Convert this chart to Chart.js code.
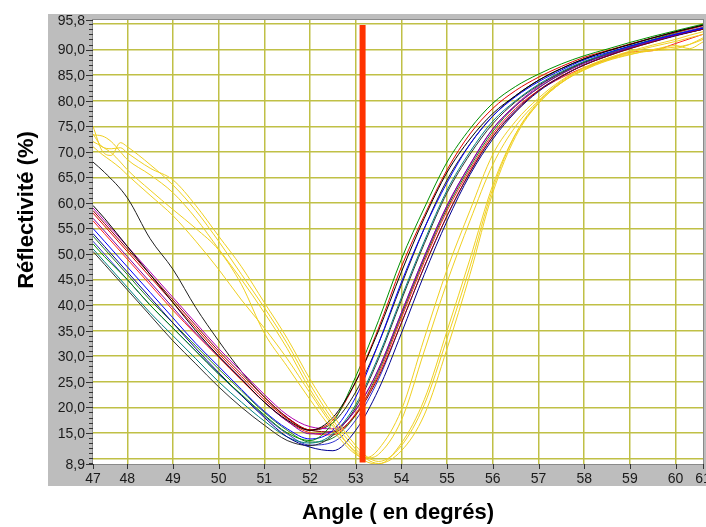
<!DOCTYPE html>
<html>
<head>
<meta charset="utf-8">
<script src="https://cdn.jsdelivr.net/npm/chart.js@4"></script>
<style>
body{margin:0;background:#fff}
canvas{display:block}
</style>
</head>
<body>
<canvas id="sprChart" width="706" height="527"></canvas>
<script>
// angles (degrees) sampled for the coloured runs
const angles = [47.25,47.5,48,48.5,49,49.5,50,50.5,51,51.5,52,52.5,53,53.5,54,54.5,55,55.5,56,56.5,57,57.5,58,58.5,59,59.5,60,60.6]

const black1 = [59.5,57,51.5,46,40.5,35,30,25.5,21,17.5,15.5,18,25,35,46.5,57,66,72.5,77.5,81,84,86.3,88.2,89.7,91,92.3,93.5,94.8]
const green1 = [52,49.5,45,40,35.5,31,26.5,22.5,18.5,15,13.5,17,26,37,49,59,68,74.5,79.5,82.8,85.2,87.2,88.8,90.1,91.4,92.6,93.7,95]
const red1 = [58,55.5,50.5,45.5,40.5,35.5,30.5,26,21.5,17.8,15.6,17.5,25,35.5,47.5,57.5,66.5,73.5,78.5,82,84.6,86.7,88.5,89.8,91.1,92.3,93.4,94.7]
const blue1 = [55,52.5,47.5,42.5,37.5,32.5,28,23.5,19.2,15.8,13.8,15.5,22,32.5,44.5,55,64,71.5,77,80.8,83.7,86,88,89.4,90.7,91.9,93,94.2]
const purple1 = [57,54.5,49.5,44.5,39.5,34.5,30,25.5,21,17.3,14.8,15.3,19.5,27.5,38.5,49.5,59.5,67.5,74.5,79,82.5,85.2,87.3,89,90.4,91.7,92.9,94.2]
const darkred1 = [58.5,56,51,46,41,36,31,26.5,22,18,15.5,15.2,18.5,26,36.5,47.5,57.5,66,73,78,82,84.8,87,88.7,90.2,91.5,92.8,94]
const navy1 = [54,51.5,46.5,41.5,36.5,31.5,26.8,22.3,18,14.2,12.2,11.5,15.5,23.5,34.5,46,56.5,65.5,72.5,77.8,81.8,84.7,87,88.7,90.2,91.5,92.7,94]
const teal1 = [51,48.5,43.5,38.5,34,29.5,25,21,17.3,14.2,13,14.8,20.5,30,41.5,52.5,62.5,70,76,80,83.2,85.7,87.7,89.2,90.6,91.8,93,94.3]
const black2 = [50.5,48,43,38,33,28.5,24,20,16.5,13.5,12.5,14.5,20,29.5,41,52,62,69.5,75.5,79.8,83,85.5,87.5,89,90.4,91.6,92.8,94]
const red2 = [56.5,54,49,44,39,34.3,29.8,25.3,21,17.3,15,14.6,18.8,26.5,37.5,48.5,58.5,66.5,73.5,78.5,82,84.5,86.5,88,89.5,89.8,91.2,93]
const green2 = [53.5,51,46,41,36.5,32,27.5,23.2,19,15.5,13.2,14,18.5,27,38,49,59,67,74,79,82.5,85.3,87.5,89.2,90.7,92,93.3,94.7]
const blue2 = [52.5,50,45,40,35.5,31,26.5,22.3,18.3,14.8,12.6,13.2,17.5,25.5,36.5,47.5,57.5,66,73,78.2,82,84.8,87,88.8,90.3,91.6,92.8,94]
const magenta1 = [59,56.5,51.5,46.5,41.5,36.5,31.5,27,22.5,18.5,16.2,15.8,19.5,27.5,38.5,49.5,59.5,67.5,74.5,79.2,82.8,85.5,87.6,89.2,90.6,91.9,93.1,94.4]
const black3 = [68,66,61,53,47,39.5,33,27,22,18,15.5,17,23,32.5,44,55,64.5,71.5,77,81,84,86.3,88.2,89.7,91,92.3,93.5,94.8]

// angles for the yellow runs
const yAngles = [47.25,47.45,47.65,47.85,48,48.5,49,49.5,50,50.5,51,51.5,52,52.5,53,53.25,53.5,54,54.5,55,55.5,56,56.5,57,57.5,58,58.5,59,59.5,60,60.3,60.6]
const yellow1 = [75,70.2,69.3,71.8,71,67.5,63.5,58.5,52.5,46,39.5,32.5,24.5,17.5,11.8,9.8,9.0,11.5,18.5,31.5,46,62,73,79.5,83.5,86.2,88,89.3,90,90.8,90.2,91.5]
const yellow2 = [73.3,73.1,72,70,68.5,65.5,62,57,51,45,38.5,31.5,23.5,16.8,11,9.3,8.9,13,21.5,35,49,63.5,73.5,79.5,83.5,86,87.8,89,90,90.5,91,92]
const yellow3 = [72,71,69.8,68,66.5,62.5,58.7,55,50.8,44,34.5,28,21.5,15.5,10.8,10.2,11.8,19.5,33.5,47,58.5,69.5,76,80.5,84,86.5,88.3,89.7,90.9,92,92.8,93.5]
const yellow4 = [71,69.5,68.2,66.8,65.5,61.5,57.5,52.5,47,41,35.5,29.5,22.8,16.3,11.3,10.1,10.8,17.5,31,44.5,56.5,67.5,75,80,83.8,86.4,88.2,89.5,90.6,91.6,92.3,93]
const yellow5 = [73.5,71,70.6,70.8,69.8,66.8,64.5,59.5,53.5,47.5,40.5,33.5,25.5,18.5,12.5,10.3,9.4,12.5,20.5,33.5,47.5,62.8,73.5,79.8,83.6,86.1,87.9,89.1,89.8,90.2,91,92.3]

// resonance marker
const markerAngle = 53.15
const markerRange = [94.8,9.2]

// axes
const xMin = 47.25
const xMax = 60.6
const yMin = 8.9
const yMax = 95.8
const xGrid = [48,49,50,51,52,53,54,55,56,57,58,59,60]
const yGrid = [10,15,20,25,30,35,40,45,50,55,60,65,70,75,80,85,90,95]
const xTickValues = [47.25,48,49,50,51,52,53,54,55,56,57,58,59,60,60.6]
const xTickLabels = ['47','48','49','50','51','52','53','54','55','56','57','58','59','60','61']
const yTickValues = [8.9,15,20,25,30,35,40,45,50,55,60,65,70,75,80,85,90,95.8]

const runs = [
{v:black1,c:'#000000'},{v:green1,c:'#009000'},{v:red1,c:'#e00000'},
{v:blue1,c:'#0000ff'},{v:purple1,c:'#8000a0'},{v:darkred1,c:'#900000'},
{v:navy1,c:'#000090'},{v:teal1,c:'#008080'},{v:black2,c:'#303030'},
{v:red2,c:'#ff2020'},{v:green2,c:'#208020'},{v:blue2,c:'#3030d0'},
{v:magenta1,c:'#b000b0'},{v:black3,c:'#202020'}
]
const yellows = [yellow1,yellow2,yellow3,yellow4,yellow5]

const datasets = [{
data:[{x:markerAngle,y:markerRange[0]},{x:markerAngle,y:markerRange[1]}],
borderColor:'#ff3300',
borderWidth:6,
borderCapStyle:'butt',
pointRadius:0,
order:0
}]
yellows.forEach(v=>{
datasets.push({
data:v.map((y,i)=>({x:yAngles[i],y:y})),
borderColor:'#f0d020',
borderWidth:1,
pointRadius:0,
cubicInterpolationMode:'monotone',
order:1
})
})
runs.forEach(r=>{
datasets.push({
data:r.v.map((y,i)=>({x:angles[i],y:y})),
borderColor:r.c,
borderWidth:1,
pointRadius:0,
cubicInterpolationMode:'monotone',
order:1
})
})

const FONT = '"Liberation Sans", Arial, sans-serif'

const frame = {
id:'frame',
beforeDraw(chart){
const c = chart.ctx, a = chart.chartArea
c.save()
c.fillStyle = '#ffffff'
c.fillRect(0,0,chart.width,chart.height)
c.fillStyle = '#bdbdbd'
c.fillRect(a.left-45,a.top-6,chart.width-(a.left-45),a.bottom-a.top+28)
c.fillStyle = '#ffffff'
c.fillRect(a.left,a.top,a.right-a.left,a.bottom-a.top)
c.restore()
},
afterDraw(chart){
const c = chart.ctx, a = chart.chartArea
const xs = chart.scales.x, ys = chart.scales.y
c.save()
c.strokeStyle = '#8a8a8a'
c.lineWidth = 1
c.strokeRect(a.left-0.5,a.top-0.5,a.right-a.left+1,a.bottom-a.top+1)

// small and large ticks on both axes
c.strokeStyle = '#333'
c.beginPath()
for(let v=Math.ceil(yMin); v<=yMax; v++){
const p = Math.round(ys.getPixelForValue(v))+0.5
c.moveTo(a.left-4,p); c.lineTo(a.left,p)
}
yTickValues.forEach(v=>{
const p = Math.round(ys.getPixelForValue(v))+0.5
c.moveTo(a.left-7,p); c.lineTo(a.left,p)
})
xTickValues.forEach(v=>{
const p = Math.round(xs.getPixelForValue(v))+0.5
c.moveTo(p,a.bottom); c.lineTo(p,a.bottom+5)
})
c.stroke()

c.fillStyle = '#1a1a1a'
c.font = '14px '+FONT
c.textAlign = 'right'
c.textBaseline = 'middle'
yTickValues.forEach(v=>{
c.fillText(v.toFixed(1).replace('.',','),a.left-8,ys.getPixelForValue(v)+1)
})
c.textAlign = 'center'
xTickValues.forEach((v,i)=>{
c.fillText(xTickLabels[i],xs.getPixelForValue(v),a.bottom+15)
})

c.fillStyle = '#000'
c.font = 'bold 22px '+FONT
c.fillText('Angle ( en degrés)',(a.left+a.right)/2,a.bottom+49)
c.translate(27,(a.top+a.bottom)/2-32)
c.rotate(-Math.PI/2)
c.fillText('Réflectivité (%)',0,0)
c.restore()
}
}

const ctx = document.getElementById('sprChart')

new Chart(ctx,{
type:'line',
data:{datasets:datasets},
options:{
responsive:false,
animation:false,
layout:{padding:{left:93,right:3,top:20,bottom:63}},
plugins:{legend:{display:false},tooltip:{enabled:false}},
scales:{
x:{
type:'linear',
min:xMin,
max:xMax,
afterBuildTicks:s=>{s.ticks = xGrid.map(v=>({value:v}))},
ticks:{display:false},
grid:{color:'#c0c046',lineWidth:1.5,drawTicks:false},
border:{display:false}
},
y:{
type:'linear',
min:yMin,
max:yMax,
afterBuildTicks:s=>{s.ticks = yGrid.map(v=>({value:v}))},
ticks:{display:false},
grid:{color:'#c0c046',lineWidth:1.5,drawTicks:false},
border:{display:false}
}
}
},
plugins:[frame]
})
</script>
</body>
</html>
